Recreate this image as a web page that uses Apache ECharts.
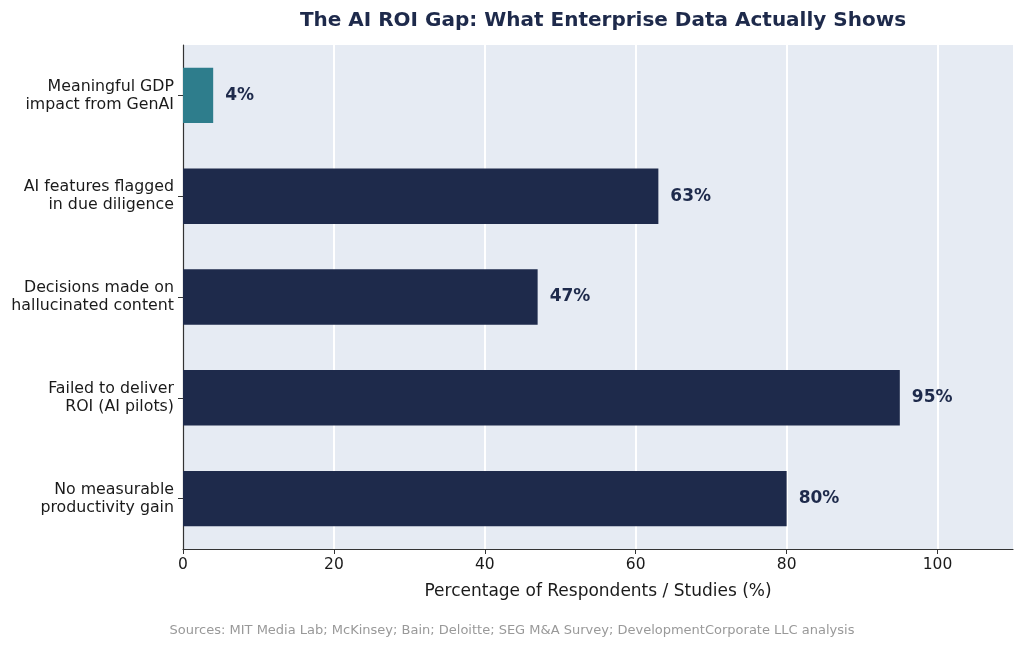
<!DOCTYPE html>
<html>
<head>
<meta charset="utf-8">
<script src="https://cdn.jsdelivr.net/npm/echarts@6/dist/echarts.min.js"></script>
<style>
  html, body { margin: 0; padding: 0; background: #fff; }
  #chart { width: 1024px; height: 648px; }
</style>
</head>
<body>
<div id="chart"></div>
<script>
// bottom to top (ECharts category axis starts at the bottom)
const categories = [
  'No measurable\nproductivity gain',
  'Failed to deliver\nROI (AI pilots)',
  'Decisions made on\nhallucinated content',
  'AI features flagged\nin due diligence',
  'Meaningful GDP\nimpact from GenAI'
]
const values = [80, 95, 47, 63, 4]
const barColors = ['#1e2a4b', '#1e2a4b', '#1e2a4b', '#1e2a4b', '#2e7d8c']
const xTicks = [0, 20, 40, 60, 80, 100]

const font = 'DejaVu Sans'
const chart = echarts.init(document.getElementById('chart'))
chart.setOption({
  backgroundColor: '#ffffff',
  animation: false,
  title: {
    text: 'The AI ROI Gap: What Enterprise Data Actually Shows',
    left: 598,
    textAlign: 'center',
    top: 6,
    textStyle: {
      fontFamily: font,
      fontSize: 20,
      fontWeight: 'bold',
      color: '#1e2a4b'
    }
  },
  graphic: [{
    type: 'text',
    left: 'center',
    top: 624,
    style: {
      text: 'Sources: MIT Media Lab; McKinsey; Bain; Deloitte; SEG M&A Survey; DevelopmentCorporate LLC analysis',
      fontFamily: font,
      fontSize: 13,
      fill: '#999999'
    }
  }],
  grid: {
    left: 183,
    right: 11,
    top: 45,
    bottom: 99,
    show: true,
    backgroundColor: '#e6ebf3',
    borderWidth: 0
  },
  xAxis: {
    type: 'value',
    min: 0,
    max: 110,
    interval: 20,
    name: 'Percentage of Respondents / Studies (%)',
    nameLocation: 'middle',
    nameGap: 34,
    nameTextStyle: { fontFamily: font, fontSize: 17, color: '#1a1a1a' },
    axisLine: { show: true, lineStyle: { color: '#333', width: 1.2 } },
    axisTick: { show: true, length: 5, customValues: xTicks, lineStyle: { color: '#333' } },
    axisLabel: {
      fontFamily: font,
      fontSize: 15.5,
      color: '#1a1a1a',
      margin: 8,
      customValues: xTicks
    },
    splitLine: { show: true, lineStyle: { color: '#ffffff', width: 2 } }
  },
  yAxis: {
    type: 'category',
    data: categories,
    axisLine: { show: true, lineStyle: { color: '#333', width: 1.2 } },
    axisTick: { show: true, alignWithLabel: true, length: 5, lineStyle: { color: '#333' } },
    axisLabel: {
      fontFamily: font,
      fontSize: 15.8,
      color: '#1a1a1a',
      align: 'right',
      lineHeight: 18,
      margin: 9
    },
    splitLine: { show: false }
  },
  series: [{
    type: 'bar',
    data: values.map((v, i) => ({ value: v, itemStyle: { color: barColors[i] } })),
    barWidth: '55%',
    label: {
      show: true,
      position: 'right',
      distance: 12,
      formatter: '{c}%',
      fontFamily: font,
      fontSize: 17,
      fontWeight: 'bold',
      color: '#1e2a4b'
    }
  }]
})
</script>
</body>
</html>
